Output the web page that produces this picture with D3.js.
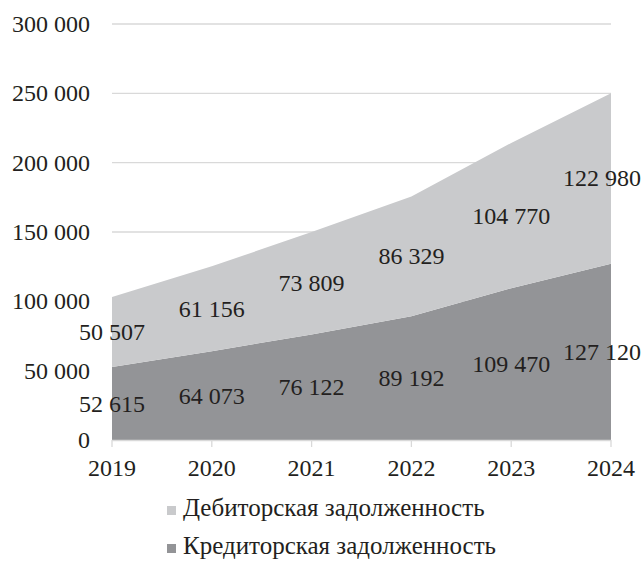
<!DOCTYPE html>
<html><head><meta charset="utf-8">
<script src="https://cdn.jsdelivr.net/npm/d3@7"></script>
<style>body{margin:0;background:#fff}svg{display:block}text{font-family:"Liberation Serif","Times New Roman",serif;fill:#231f20}</style>
</head><body><svg id="c" width="644" height="561"></svg>
<script>
const years = [2019, 2020, 2021, 2022, 2023, 2024];
const kredit = [52615, 64073, 76122, 89192, 109470, 127120];
const debit = [50507, 61156, 73809, 86329, 104770, 122980];
const yTicks = [0, 50000, 100000, 150000, 200000, 250000, 300000];
const seriesNames = ["Дебиторская задолженность", "Кредиторская задолженность"];
const colors = {debit: "#c9cacc", kredit: "#939497"};

const svg = d3.select("#c");
const W = 644;
const x = d3.scalePoint().domain(years).range([112, 611]);
const y = d3.scaleLinear().domain([0, 300000]).range([440, 24]);
const fmt = v => d3.format(",")(v).replace(/,/g, " ");
const fs = 24;

// gridlines
svg.append("g").selectAll("line").data(yTicks.filter(d => d > 0)).join("line")
  .attr("x1", 112).attr("x2", 611).attr("y1", d => y(d)).attr("y2", d => y(d))
  .attr("stroke", "#d9d9d9").attr("stroke-width", 1.3);

const rows = years.map((yr, i) => ({year: yr, kredit: kredit[i], debit: debit[i]}));
const stack = d3.stack().keys(["kredit", "debit"])(rows);
const area = d3.area().x(d => x(d.data.year)).y0(d => y(d[0])).y1(d => y(d[1]));
svg.append("g").selectAll("path").data(stack).join("path")
  .attr("d", area).attr("fill", d => colors[d.key]);

// x axis
const xa = svg.append("g");
xa.append("line").attr("x1", 112).attr("x2", 611).attr("y1", 440.5).attr("y2", 440.5).attr("stroke", "#d9d9d9").attr("stroke-width", 1.3);
xa.selectAll("line.t").data(years).join("line").attr("class", "t")
  .attr("x1", d => x(d)).attr("x2", d => x(d)).attr("y1", 440).attr("y2", 447)
  .attr("stroke", "#d9d9d9").attr("stroke-width", 1.3);
xa.selectAll("text").data(years).join("text")
  .attr("x", d => x(d)).attr("y", 476).attr("text-anchor", "middle")
  .attr("font-size", fs).text(d => d);

// y axis labels
svg.append("g").selectAll("text").data(yTicks).join("text")
  .attr("x", 90).attr("y", d => y(d) + 8).attr("text-anchor", "end")
  .attr("font-size", fs).text(d => fmt(d));

// data labels
stack.forEach(s => {
  const g = svg.append("g");
  g.selectAll("text").data(s).join("text")
    .attr("y", d => y((d[0] + d[1]) / 2) + 8)
    .attr("text-anchor", "middle").attr("font-size", fs)
    .text(d => fmt(d.data[s.key]))
    .each(function(d) {
      const w = this.getComputedTextLength();
      let cx = x(d.data.year);
      if (cx + w / 2 > W - 3) cx = W - 3 - w / 2;
      d3.select(this).attr("x", cx);
    });
});

// legend
const leg = [{name: seriesNames[0], c: colors.debit, y: 516}, {name: seriesNames[1], c: colors.kredit, y: 554}];
const lg = svg.append("g").selectAll("g").data(leg).join("g");
lg.append("rect").attr("x", 167).attr("y", d => d.y - 10).attr("width", 9).attr("height", 9).attr("fill", d => d.c);
lg.append("text").attr("x", 183).attr("y", d => d.y).attr("font-size", 25).text(d => d.name);
</script></body></html>
